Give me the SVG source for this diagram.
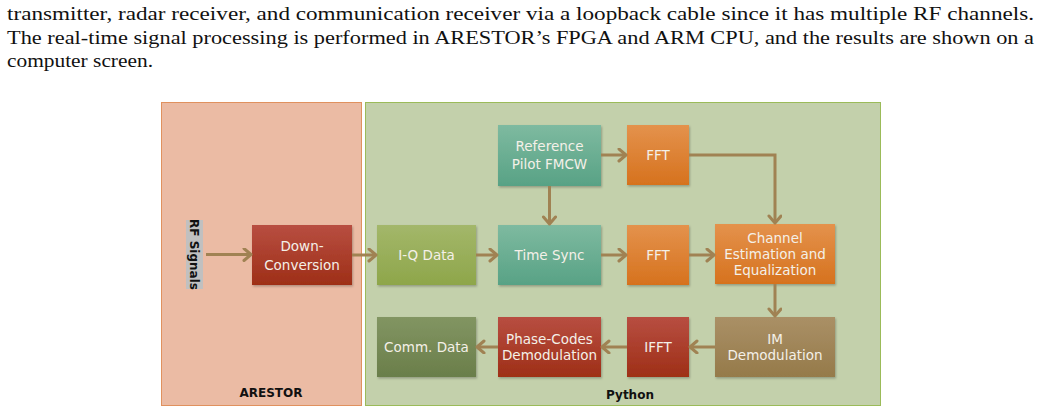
<svg xmlns="http://www.w3.org/2000/svg" width="1041" height="412" viewBox="0 0 1041 412">
<defs>
<linearGradient id="gRed" x1="0" y1="0" x2="0" y2="1"><stop offset="0" stop-color="#B84E41"/><stop offset="1" stop-color="#9E2F17"/></linearGradient>
<linearGradient id="gGreen" x1="0" y1="0" x2="0" y2="1"><stop offset="0" stop-color="#A3B76A"/><stop offset="1" stop-color="#8EA64A"/></linearGradient>
<linearGradient id="gTeal" x1="0" y1="0" x2="0" y2="1"><stop offset="0" stop-color="#7EBAA0"/><stop offset="1" stop-color="#58A285"/></linearGradient>
<linearGradient id="gOrange" x1="0" y1="0" x2="0" y2="1"><stop offset="0" stop-color="#E4924C"/><stop offset="1" stop-color="#D6721E"/></linearGradient>
<linearGradient id="gBrown" x1="0" y1="0" x2="0" y2="1"><stop offset="0" stop-color="#AA9066"/><stop offset="1" stop-color="#957A4A"/></linearGradient>
<linearGradient id="gOlive" x1="0" y1="0" x2="0" y2="1"><stop offset="0" stop-color="#829562"/><stop offset="1" stop-color="#6A7E4A"/></linearGradient>
<filter id="sh" x="-10%" y="-10%" width="130%" height="130%"><feDropShadow dx="1" dy="1.5" stdDeviation="1" flood-color="#000" flood-opacity="0.25"/></filter>
<marker id="ah" markerWidth="12" markerHeight="16" refX="9" refY="7" orient="auto" markerUnits="userSpaceOnUse"><path d="M2,1 L9,7 L2,13" fill="none" stroke="#A08253" stroke-width="3" stroke-linecap="round" stroke-linejoin="round"/></marker>
</defs>
<style>
.para{font-family:"Liberation Serif",serif;font-size:19px;fill:#111}
.lbl{font-family:"DejaVu Sans",sans-serif;font-size:13.5px;fill:#F4F0E8;text-anchor:middle}
.bold{font-family:"DejaVu Sans",sans-serif;font-size:12px;font-weight:bold;fill:#111;text-anchor:middle}
.box{filter:url(#sh)}
.conn path{fill:none;stroke:#A08253;stroke-width:3;marker-end:url(#ah)}
</style>
<rect width="1041" height="412" fill="#fff"/>
<g id="paragraph">
<text class="para" x="7" y="20" textLength="1027" lengthAdjust="spacingAndGlyphs">transmitter, radar receiver, and communication receiver via a loopback cable since it has multiple RF channels.</text>
<text class="para" x="7" y="44" textLength="1027" lengthAdjust="spacingAndGlyphs">The real-time signal processing is performed in ARESTOR’s FPGA and ARM CPU, and the results are shown on a</text>
<text class="para" x="7" y="67" textLength="146" lengthAdjust="spacingAndGlyphs">computer screen.</text>
</g>
<g id="arestor-panel">
<rect x="161.5" y="102.5" width="200" height="303" fill="#EBBBA4" stroke="#E0915E" stroke-width="1"/>
<text class="bold" x="271" y="397">ARESTOR</text>
</g>
<g id="python-panel">
<rect x="365.5" y="102.5" width="515" height="303" fill="#C3D0AB" stroke="#9BBB59" stroke-width="1"/>
<text class="bold" x="630" y="399">Python</text>
</g>
<g id="rf-signals">
<rect x="186" y="220" width="17" height="69" fill="#C0C0C0"/>
<text class="bold" transform="translate(190,254.5) rotate(90)" x="0" y="0">RF Signals</text>
</g>
<g id="down-conversion"><rect class="box" x="252" y="225" width="100" height="60" fill="url(#gRed)"/><text class="lbl" x="302" y="251">Down-</text><text class="lbl" x="302" y="270">Conversion</text></g>
<g id="iq-data"><rect class="box" x="377" y="225" width="99" height="60" fill="url(#gGreen)"/><text class="lbl" x="426.5" y="260">I-Q Data</text></g>
<g id="reference-pilot"><rect class="box" x="498" y="125" width="103" height="61" fill="url(#gTeal)"/><text class="lbl" x="549.5" y="151">Reference</text><text class="lbl" x="549.5" y="169">Pilot FMCW</text></g>
<g id="fft-top"><rect class="box" x="627" y="125" width="62" height="60" fill="url(#gOrange)"/><text class="lbl" x="658" y="160">FFT</text></g>
<g id="time-sync"><rect class="box" x="498" y="225" width="103" height="60" fill="url(#gTeal)"/><text class="lbl" x="549.5" y="260">Time Sync</text></g>
<g id="fft-mid"><rect class="box" x="627" y="225" width="62" height="60" fill="url(#gOrange)"/><text class="lbl" x="658" y="260">FFT</text></g>
<g id="channel-estimation"><rect class="box" x="715" y="224" width="120" height="60" fill="url(#gOrange)"/><text class="lbl" x="775" y="243">Channel</text><text class="lbl" x="775" y="259">Estimation and</text><text class="lbl" x="775" y="275">Equalization</text></g>
<g id="im-demodulation"><rect class="box" x="715" y="317" width="120" height="60" fill="url(#gBrown)"/><text class="lbl" x="775" y="344">IM</text><text class="lbl" x="775" y="360">Demodulation</text></g>
<g id="ifft"><rect class="box" x="627" y="317" width="62" height="60" fill="url(#gRed)"/><text class="lbl" x="658" y="352">IFFT</text></g>
<g id="phase-codes"><rect class="box" x="498" y="317" width="103" height="60" fill="url(#gRed)"/><text class="lbl" x="549.5" y="344">Phase-Codes</text><text class="lbl" x="549.5" y="360">Demodulation</text></g>
<g id="comm-data"><rect class="box" x="377" y="317" width="99" height="60" fill="url(#gOlive)"/><text class="lbl" x="426.5" y="352">Comm. Data</text></g>
<g id="connectors" class="conn">
<path d="M206,254.5 H251"/>
<path d="M352,255 H376"/>
<path d="M476,255 H497"/>
<path d="M601,255 H626"/>
<path d="M689,255 H714"/>
<path d="M601,155 H626"/>
<path d="M549.5,186 V224"/>
<path d="M689,155 H775 V223"/>
<path d="M775,284 V316"/>
<path d="M715,347 H690"/>
<path d="M627,347 H602"/>
<path d="M498,347 H477"/>
</g>
</svg>
